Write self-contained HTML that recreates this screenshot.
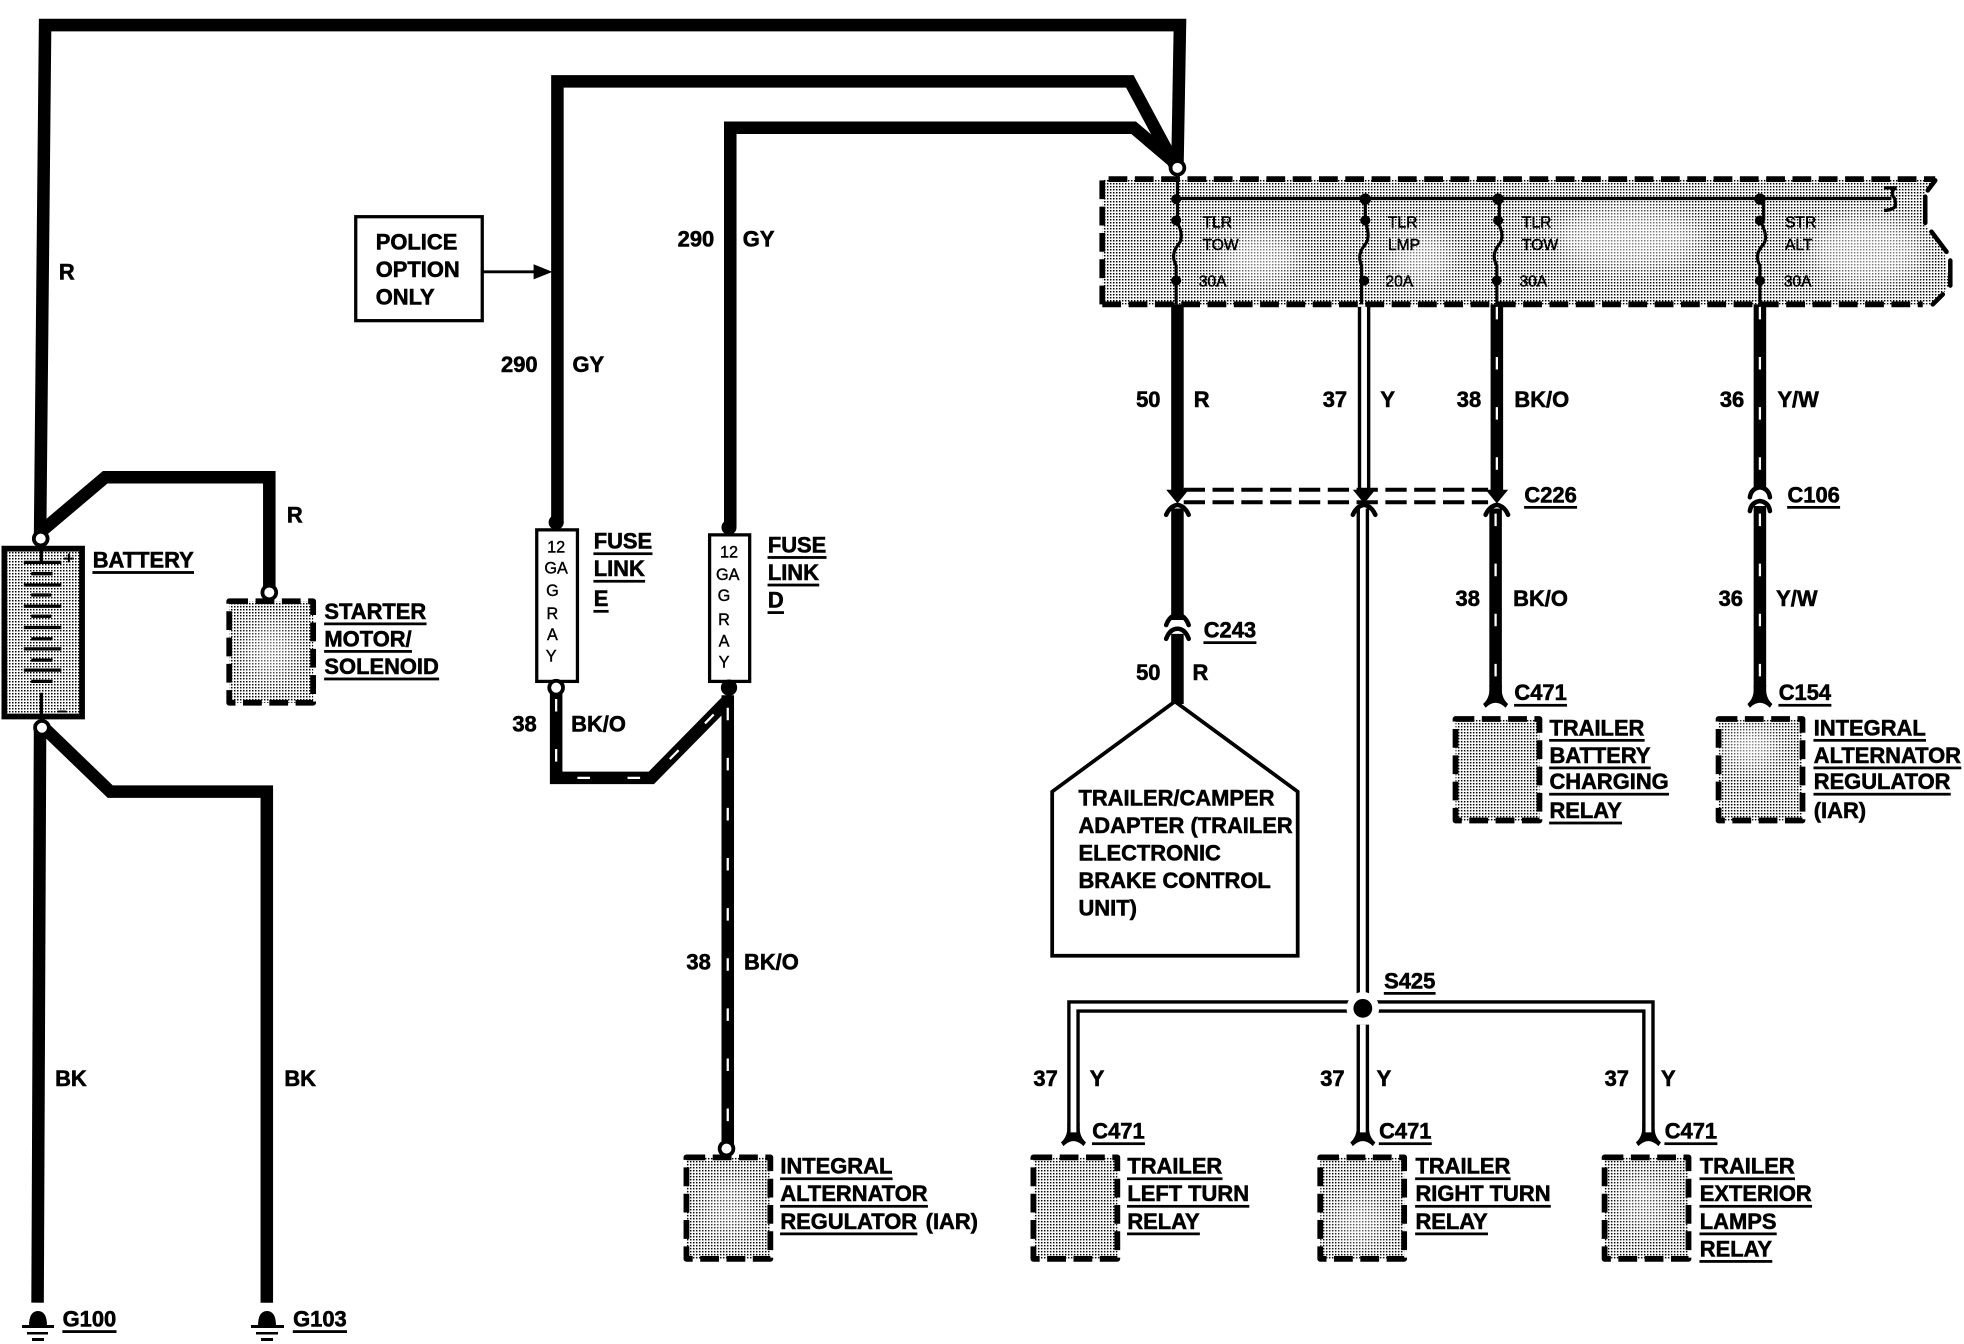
<!DOCTYPE html>
<html><head><meta charset="utf-8"><style>
html,body{margin:0;padding:0;background:#fff}
svg{display:block}
text{font-family:"Liberation Sans",sans-serif;font-weight:bold;font-size:17.5px;fill:#000;stroke:#000;stroke-width:.45px;dominant-baseline:central}
.u{text-decoration:underline}
.s{font-size:12.5px;font-weight:normal;stroke-width:.35px}
.f{font-size:13px;font-weight:normal;stroke-width:.3px;text-anchor:middle}
.w{fill:none;stroke:#000;stroke-width:10;stroke-linejoin:miter}
.t{fill:none;stroke:#fff;stroke-width:1.8;stroke-dasharray:10 30}
.y{fill:none;stroke:#fff;stroke-width:4.6}
.c{fill:#fff;stroke:#000;stroke-width:3}
.d{fill:none;stroke:#000;stroke-width:4.6;stroke-dasharray:15 6;stroke-linejoin:round}
.a{fill:none;stroke:#000;stroke-width:3.6;stroke-linecap:round}
</style></head><body>
<svg xmlns="http://www.w3.org/2000/svg" width="1964" height="1344" viewBox="0 0 1964 1344">
<defs>
<pattern id="p" width="3" height="3" patternUnits="userSpaceOnUse" patternTransform="scale(.7983)">
<rect width="3" height="3" fill="#fff"/><rect x="0" y="0" width="1.5" height="1.5" fill="#000"/>
</pattern>
<filter id="b" x="-50%" y="-50%" width="200%" height="200%"><feGaussianBlur stdDeviation="9"/></filter>
<path id="yc" d="M-5,-10 Q-4,0 -10,5 L-8,8 Q0,0 8,8 L10,5 Q4,0 5,-10 Z" fill="#000"/>
</defs>
<g transform="scale(1.2526)">
<!-- wires top -->
<path class="w" d="M32,428 L36,20 H942 L940,132"/>
<path class="w" d="M445,418 V65 H902 L938,132"/>
<path class="w" d="M583,420 V102 H905 L938,130"/>
<circle class="c" cx="940" cy="134" r="5.5"/>

<!-- fuse box -->
<path d="M880,143 H1545 L1536,155 V178 L1552,200 L1556,228 L1545,243 H880 Z" fill="url(#p)"/>
<g filter="url(#b)" fill="#fff" opacity=".5"><ellipse cx="1005" cy="205" rx="32" ry="22"/><ellipse cx="1300" cy="190" rx="60" ry="25"/><ellipse cx="1490" cy="200" rx="45" ry="28"/><ellipse cx="1135" cy="205" rx="25" ry="22"/></g>
<path class="d" d="M880,243 V143 H1545"/>
<path class="d" d="M880,243 H1535"/>
<g class="a" fill="none" stroke="#000" stroke-width="4.6" stroke-linecap="round">
<path d="M1545,144 L1539,152" fill="none" stroke="#000"/>
<path d="M1537,157 V178" fill="none" stroke="#000"/>
<path d="M1542,185 L1554,201" fill="none" stroke="#000"/>
<path d="M1557,208 V228" fill="none" stroke="#000"/>
<path d="M1551,235 L1543,243" fill="none" stroke="#000"/>
</g>
<path d="M940,140 V176 M1090,160 V176 M1197,160 V176 M1408,160 V176" fill="none" stroke="#000" stroke-width="2.5"/>
<path d="M940,158.5 H1510 M1504,150 H1514 Q1510,151 1511,156 Q1514,160 1513,165 Q1510,168 1504,168" fill="none" stroke="#000" stroke-width="2.6"/>
<g fill="none" stroke="#000" stroke-width="2.5">
<path d="M939,176 Q946,188 941,195 Q934,203 939,212 V243"/>
<path d="M1089,176 Q1095,188 1090,195 Q1083,203 1087,212 V243"/>
<path d="M1195,176 Q1202,188 1197,195 Q1190,203 1195,212 V243"/>
<path d="M1405,176 Q1412,188 1408,195 Q1400,203 1405,212 V243"/>
</g>
<g fill="#000">
<circle cx="939" cy="159" r="4"/><circle cx="1090" cy="159" r="4.5"/><circle cx="1196" cy="159" r="4.5"/><circle cx="1405" cy="159" r="4.5"/>
<circle cx="939" cy="176" r="4"/><circle cx="1090" cy="176" r="4"/><circle cx="1196" cy="176" r="4"/><circle cx="1405" cy="176" r="4"/>
<circle cx="939" cy="224" r="4"/><circle cx="1089" cy="224" r="4"/><circle cx="1195" cy="224" r="4"/><circle cx="1405" cy="224" r="4"/>
</g>
<text class="s" x="960" y="178">TLR</text><text class="s" x="960" y="196">TOW</text><text class="s" x="957" y="225">30A</text>
<text class="s" x="1108" y="178">TLR</text><text class="s" x="1108" y="196">LMP</text><text class="s" x="1106" y="225">20A</text>
<text class="s" x="1215" y="178">TLR</text><text class="s" x="1215" y="196">TOW</text><text class="s" x="1213" y="225">30A</text>
<text class="s" x="1425" y="178">STR</text><text class="s" x="1425" y="196">ALT</text><text class="s" x="1424" y="225">30A</text>

<!-- wires from fuse box -->
<path class="w" d="M940,243 V392"/><path class="w" d="M940,406 V495"/><path class="w" d="M940,506 V562"/>
<path class="w" d="M1089,245 V392"/><path class="y" d="M1089,245 V392"/>
<path class="w" d="M1088,406 V795"/><path class="y" d="M1088,406 V795"/>
<path class="w" d="M1195,243 V392"/><path class="t" d="M1195,245 V392"/>
<path class="w" d="M1194,406 V556"/><path class="t" d="M1194,410 V556"/>
<path class="w" d="M1405,243 V390"/><path class="t" d="M1405,245 V390"/>
<path class="w" d="M1405,404 V556"/><path class="t" d="M1405,410 V556"/>

<!-- C226 dashes -->
<path d="M945,391 H1188 M945,401 H1188" fill="none" stroke="#000" stroke-width="3.2" stroke-dasharray="17 6"/>
<g fill="#000">
<path d="M931,391 L949,391 L940,402 Z"/><path d="M1080,391 L1098,391 L1089,402 Z"/><path d="M1186,391 L1204,391 L1195,402 Z"/>
</g>
<path class="a" d="M931,411 Q934,404 940,403 Q946,404 949,411"/>
<path class="a" d="M1080,411 Q1083,404 1089,403 Q1095,404 1098,411"/>
<path class="a" d="M1186,411 Q1189,404 1195,403 Q1201,404 1204,411"/>
<path class="a" d="M1397,397 Q1398,390 1405,389 Q1412,390 1413,397"/>
<path class="a" d="M1397,408 Q1398,401 1405,400 Q1412,401 1413,408"/>
<path class="a" d="M931,499 Q934,491 940,491 Q946,491 949,499"/>
<path class="a" d="M931,510 Q934,502 940,502 Q946,502 949,510"/>

<!-- pentagon -->
<path d="M938,560 L1036,632 V763 H840 V632 Z" fill="#fff" stroke="#000" stroke-width="3"/>
<text x="861" y="637">TRAILER/CAMPER</text><text x="861" y="659">ADAPTER (TRAILER</text><text x="861" y="681">ELECTRONIC</text><text x="861" y="703">BRAKE CONTROL</text><text x="861" y="725">UNIT)</text>

<!-- S425 -->
<use href="#yc" x="857" y="907"/><use href="#yc" x="1088" y="907"/><use href="#yc" x="1316" y="907"/>
<use href="#yc" x="1194" y="557"/><use href="#yc" x="1405" y="557"/>
<path class="w" d="M857,904 V803.5 H1316 V904"/><path class="y" d="M857,904 V803.5 H1316 V904"/>
<circle cx="1088" cy="805" r="13" fill="#fff"/>
<path class="w" d="M1088,818 V904"/><path class="y" d="M1088,818 V904"/>
<circle cx="1088" cy="805" r="7.5" fill="#000"/>

<!-- relay boxes -->
<g>
<rect x="183" y="480" width="67" height="81" fill="url(#p)"/><ellipse cx="216" cy="520" rx="20" ry="24" fill="#fff" opacity=".45" filter="url(#b)"/><rect class="d" x="183" y="480" width="67" height="81"/>
<rect x="1162" y="574" width="67" height="81" fill="url(#p)"/><rect class="d" x="1162" y="574" width="67" height="81"/>
<rect x="1372" y="574" width="67" height="81" fill="url(#p)"/><ellipse cx="1398" cy="597" rx="22" ry="16" fill="#fff" opacity=".6" filter="url(#b)"/><rect class="d" x="1372" y="574" width="67" height="81"/>
<rect x="548" y="924" width="67" height="81" fill="url(#p)"/><ellipse cx="582" cy="965" rx="20" ry="24" fill="#fff" opacity=".35" filter="url(#b)"/><rect class="d" x="548" y="924" width="67" height="81"/>
<rect x="825" y="924" width="67" height="81" fill="url(#p)"/><rect class="d" x="825" y="924" width="67" height="81"/>
<rect x="1054" y="924" width="67" height="81" fill="url(#p)"/><ellipse cx="1085" cy="975" rx="20" ry="22" fill="#fff" opacity=".4" filter="url(#b)"/><rect class="d" x="1054" y="924" width="67" height="81"/>
<rect x="1281" y="924" width="67" height="81" fill="url(#p)"/><ellipse cx="1312" cy="960" rx="20" ry="24" fill="#fff" opacity=".35" filter="url(#b)"/><rect class="d" x="1281" y="924" width="67" height="81"/>
</g>

<!-- battery wires -->
<path class="w" d="M32,425 L84,381 H215 V470"/>
<path class="w" d="M32,578 L88,632 H213 V1040"/>
<path class="w" d="M32,578 L30,1040"/>
<circle class="c" cx="215" cy="473" r="5.5"/>

<!-- battery -->
<rect x="3.5" y="438" width="62" height="134" fill="url(#p)" stroke="#000" stroke-width="4.6"/>
<g stroke="#000" fill="none">
<path stroke-width="2.6" d="M33,438 V449 M33,553 V572"/>
<path stroke-width="2.6" d="M19,449 H49 M25,458 H42 M19,467 H49 M25,475 H41 M19,484 H49 M25,492 H41 M19,501 H49 M25,510 H42 M19,518 H49 M25,527 H42 M19,535 H49 M25,544 H42"/>
<path stroke-width="1.6" d="M46,568 H53 M55,449 V442 M51,446 H59 H51"/>
</g>
<circle class="c" cx="32.5" cy="430" r="5.5"/>
<circle class="c" cx="33.5" cy="581" r="5.5"/>

<!-- police option -->
<rect x="284" y="173" width="101" height="83" fill="#fff" stroke="#000" stroke-width="2.6"/>
<text x="300" y="193">POLICE</text><text x="300" y="215">OPTION</text><text x="300" y="237">ONLY</text>
<path d="M385,217 H428" stroke="#000" stroke-width="2.2"/><path d="M426,211 L441,217 L426,223 Z" fill="#000"/>

<!-- fuse links -->
<circle cx="444" cy="417" r="6" fill="#000"/><circle cx="582" cy="421" r="6" fill="#000"/>
<rect x="428.5" y="423" width="32.5" height="121" fill="#fff" stroke="#000" stroke-width="2.6"/>
<rect x="566.5" y="427" width="32" height="117" fill="#fff" stroke="#000" stroke-width="2.6"/>
<text class="f" x="444" y="437">12</text><text class="f" x="444" y="454">GA</text><text class="f" x="441" y="472">G</text><text class="f" x="441" y="490">R</text><text class="f" x="441" y="507">A</text><text class="f" x="440" y="524">Y</text>
<text class="f" x="582" y="441">12</text><text class="f" x="581" y="459">GA</text><text class="f" x="578" y="476">G</text><text class="f" x="578" y="495">R</text><text class="f" x="578" y="512">A</text><text class="f" x="578" y="529">Y</text>

<!-- BK/O links -->
<path class="w" d="M444,552 V621 H520 L581,559"/>
<path class="t" d="M444,558 V621 H520 L581,559" stroke-dasharray="9 21"/>
<circle class="c" cx="444" cy="549" r="5.5"/>
<path class="w" d="M581,555 V915"/><path class="t" d="M581,565 V915"/>
<circle cx="582" cy="549" r="6.5" fill="#000"/>
<circle class="c" cx="580" cy="917" r="5.5"/>

<!-- labels -->
<text x="47" y="217">R</text><text x="229" y="411">R</text>
<text x="44" y="861">BK</text><text x="227" y="861">BK</text>
<text class="u" x="74" y="447">BATTERY</text>
<text class="u" x="259" y="488">STARTER</text><text class="u" x="259" y="510">MOTOR/</text><text class="u" x="259" y="532">SOLENOID</text>
<text x="400" y="291">290</text><text x="457" y="291">GY</text>
<text x="541" y="191">290</text><text x="593" y="191">GY</text>
<text class="u" x="474" y="432">FUSE</text><text class="u" x="474" y="454">LINK</text><text class="u" x="474" y="478">E</text>
<text class="u" x="613" y="435">FUSE</text><text class="u" x="613" y="457">LINK</text><text class="u" x="613" y="479">D</text>
<text x="409" y="578">38</text><text x="456" y="578">BK/O</text>
<text x="548" y="768">38</text><text x="594" y="768">BK/O</text>
<text x="907" y="319">50</text><text x="953" y="319">R</text>
<text x="1056" y="319">37</text><text x="1102" y="319">Y</text>
<text x="1163" y="319">38</text><text x="1209" y="319">BK/O</text>
<text x="1373" y="319">36</text><text x="1419" y="319">Y/W</text>
<text x="1162" y="478">38</text><text x="1208" y="478">BK/O</text>
<text x="1372" y="478">36</text><text x="1418" y="478">Y/W</text>
<text x="907" y="537">50</text><text x="952" y="537">R</text>
<text x="825" y="861">37</text><text x="870" y="861">Y</text>
<text x="1054" y="861">37</text><text x="1099" y="861">Y</text>
<text x="1281" y="861">37</text><text x="1326" y="861">Y</text>
<text class="u" x="1217" y="395">C226</text><text class="u" x="1427" y="395">C106</text><text class="u" x="961" y="503">C243</text>
<text class="u" x="1209" y="553">C471</text><text class="u" x="1420" y="553">C154</text>
<text class="u" x="872" y="903">C471</text><text class="u" x="1101" y="903">C471</text><text class="u" x="1329" y="903">C471</text>
<text class="u" x="1105" y="783">S425</text>
<text class="u" x="1237" y="581">TRAILER</text><text class="u" x="1237" y="603">BATTERY</text><text class="u" x="1237" y="624">CHARGING</text><text class="u" x="1237" y="647">RELAY</text>
<text class="u" x="1448" y="581">INTEGRAL</text><text class="u" x="1448" y="603">ALTERNATOR</text><text class="u" x="1448" y="624">REGULATOR</text><text x="1448" y="647">(IAR)</text>
<text class="u" x="623" y="931">INTEGRAL</text><text class="u" x="623" y="953">ALTERNATOR</text><text class="u" x="623" y="975">REGULATOR</text><text x="739" y="975">(IAR)</text>
<text class="u" x="900" y="931">TRAILER</text><text class="u" x="900" y="953">LEFT TURN</text><text class="u" x="900" y="975">RELAY</text>
<text class="u" x="1130" y="931">TRAILER</text><text class="u" x="1130" y="953">RIGHT TURN</text><text class="u" x="1130" y="975">RELAY</text>
<text class="u" x="1357" y="931">TRAILER</text><text class="u" x="1357" y="953">EXTERIOR</text><text class="u" x="1357" y="975">LAMPS</text><text class="u" x="1357" y="997">RELAY</text>
<text class="u" x="50" y="1053">G100</text><text class="u" x="234" y="1053">G103</text>
</g>
<!-- grounds in real px -->
<g fill="#000">
<path d="M29,1326 Q29,1311 38,1311 Q47,1311 47,1326 Z"/><rect x="22" y="1325" width="32" height="3"/><rect x="27" y="1332" width="21" height="2.5"/><rect x="32" y="1338" width="12" height="3"/>
<path d="M258,1326 Q258,1311 267,1311 Q276,1311 276,1326 Z"/><rect x="251" y="1325" width="33" height="3"/><rect x="256" y="1332" width="22" height="2.5"/><rect x="261" y="1338" width="12" height="3"/>
</g>
</svg>
</body></html>
